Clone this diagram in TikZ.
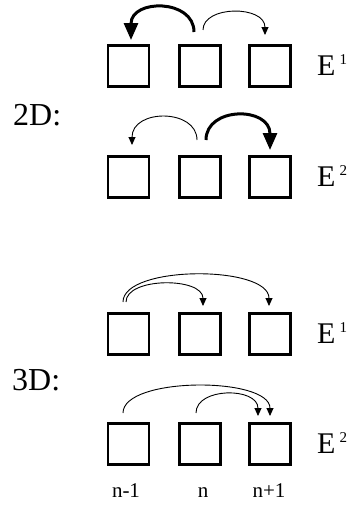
\documentclass[tikz,border=0pt]{standalone}
\usepackage{fontspec}
\setmainfont{Liberation Serif}
\usetikzlibrary{arrows.meta}
\begin{document}
\begin{tikzpicture}[x=1pt,y=1pt,
  cell/.style={draw, line width=2.4pt, minimum size=41pt, inner sep=0pt},
  thinarr/.style={line width=0.9pt, -{Triangle[length=8pt,width=7pt]}},
  thickarr/.style={line width=3pt, -{Triangle[length=17pt,width=14pt]}},
  elabel/.style={anchor=base west, inner sep=0pt, font=\fontsize{30}{34}\selectfont},
  dlabel/.style={anchor=base west, inner sep=0pt, font=\fontsize{32}{36}\selectfont},
  nlabel/.style={anchor=base, inner sep=0pt, font=\fontsize{21}{24}\selectfont}]
\useasboundingbox (0,0) rectangle (355,-514);
\newcommand{\supnum}[1]{\hspace{4pt}\raisebox{11pt}{\fontsize{15}{15}\selectfont #1}}
% boxes
\foreach \r/\y in {a/-66,b/-177,c/-334,d/-444}{
  \node[cell] (\r1) at (128.5,\y) {};
  \node[cell] (\r2) at (200,\y) {};
  \node[cell] (\r3) at (270,\y) {};
}
% labels
\node[dlabel] (l2d) at (13,-125) {2D:};
\node[dlabel] (l3d) at (12,-390) {3D:};
\node[elabel] (ea) at (317,-75) {E\supnum{1}};
\node[elabel] (eb) at (317,-186) {E\supnum{2}};
\node[elabel] (ec) at (317,-343) {E\supnum{1}};
\node[elabel] (ed) at (317,-453) {E\supnum{2}};
\node[nlabel] (n1) at (126,-497) {n-1};
\node[nlabel] (n2) at (203,-497) {n};
\node[nlabel] (n3) at (269,-497) {n+1};
% row 1
\draw[thickarr] ([shift={(-6pt,34pt)}]a2.center) .. controls +(0,33.3) and +(0,41.3) .. ([shift={(2.5pt,26pt)}]a1.center);
\draw[thinarr] ([shift={(3pt,36pt)}]a2.center) .. controls +(0,24.8) and +(0,29.8) .. ([shift={(-5pt,31pt)}]a3.center);
% row 2
\draw[thinarr] ([shift={(-3pt,37pt)}]b2.center) .. controls +(0,31.5) and +(0,36.5) .. ([shift={(3.5pt,32pt)}]b1.center);
\draw[thickarr] ([shift={(6pt,37pt)}]b2.center) .. controls +(0,33.7) and +(0,43.7) .. ([shift={(0pt,27pt)}]b3.center);
% row 3
\draw[thinarr] ([shift={(-5.5pt,32pt)}]c1.center) .. controls +(0,37) and +(0,41) .. ([shift={(-1pt,28pt)}]c3.center);
\draw[thinarr] ([shift={(-2.5pt,32pt)}]c1.center) .. controls +(0,25) and +(0,29) .. ([shift={(3pt,28pt)}]c2.center);
% row 4
\draw[thinarr] ([shift={(-5.5pt,31pt)}]d1.center) .. controls +(0,36.5) and +(0,39.5) .. ([shift={(0pt,28pt)}]d3.center);
\draw[thinarr] ([shift={(-4pt,31pt)}]d2.center) .. controls +(0,26) and +(0,29) .. ([shift={(-12pt,28pt)}]d3.center);
\end{tikzpicture}
\end{document}
